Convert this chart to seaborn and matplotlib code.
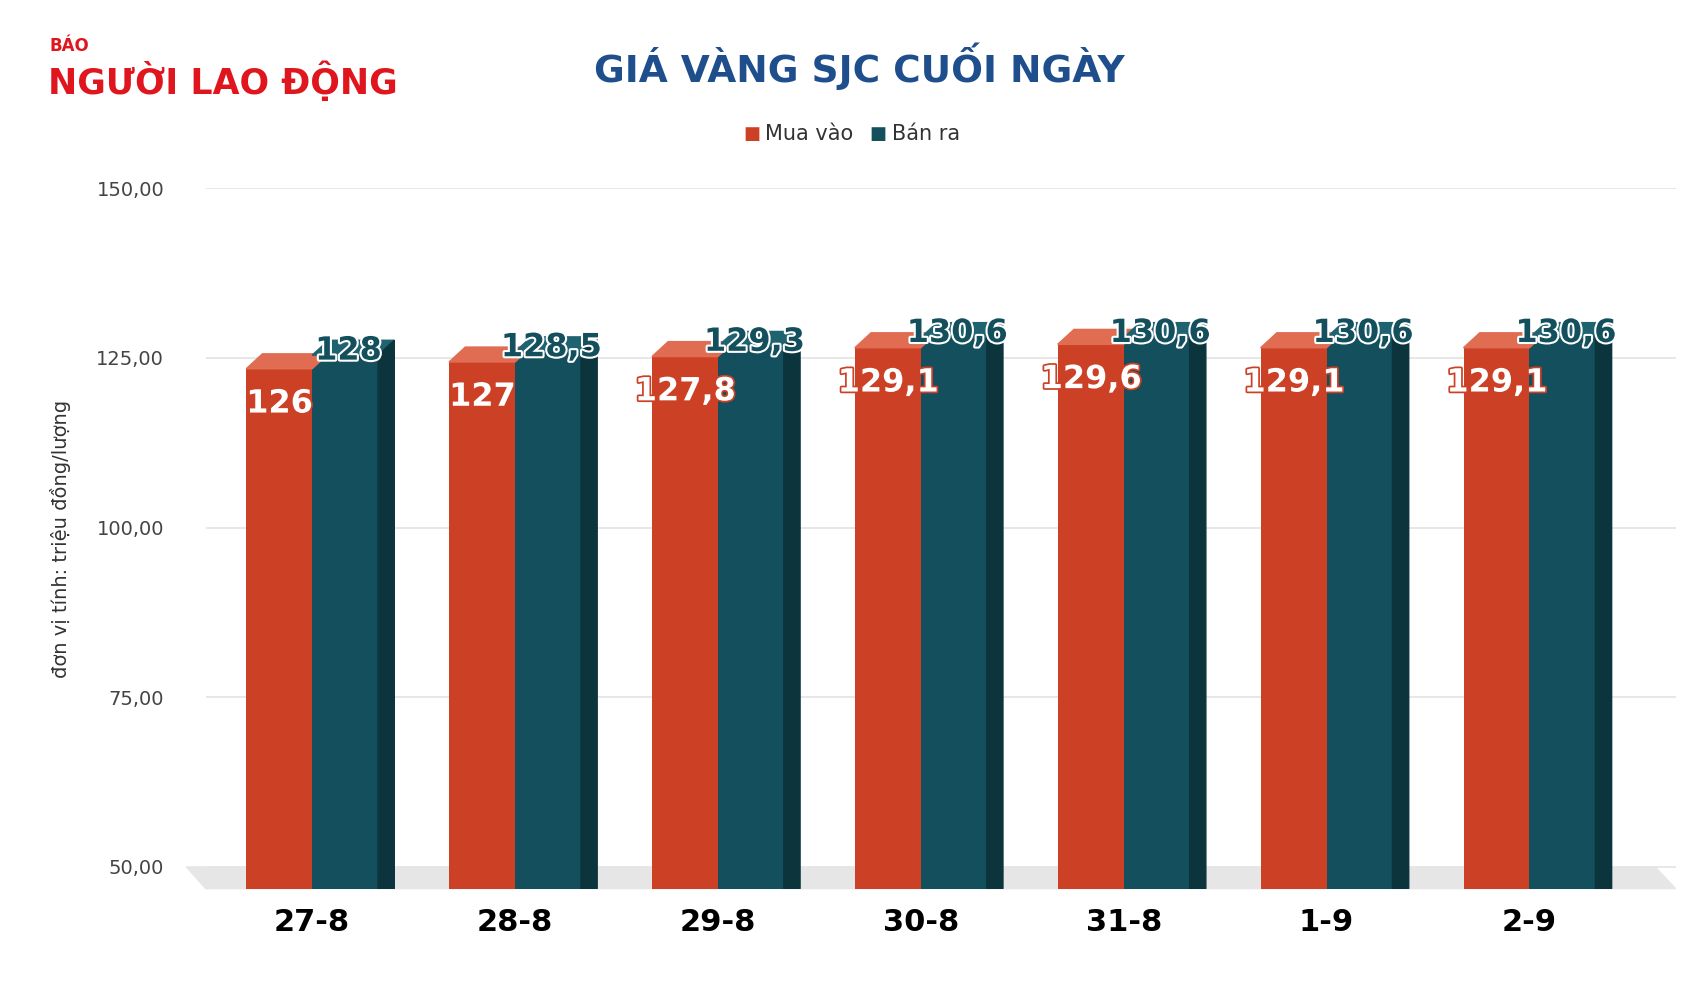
import numpy as np
import matplotlib.pyplot as plt
import matplotlib.patheffects as pe
import pandas as pd
import seaborn as sns

# data
days = ['27-8', '28-8', '29-8', '30-8', '31-8', '1-9', '2-9']
mua_vao = [126, 127, 127.8, 129.1, 129.6, 129.1, 129.1]
ban_ra = [128, 128.5, 129.3, 130.6, 130.6, 130.6, 130.6]
yticks = [50, 75, 100, 125, 150]

orange = '#cc4125'
teal = '#134f5c'

df = pd.DataFrame({'day': days * 2,
                   'price': mua_vao + ban_ra,
                   'kind': ['Mua vào'] * 7 + ['Bán ra'] * 7})

fig = plt.figure(figsize=(17.08, 9.83), dpi=100)
ax = fig.add_axes([0.1205, 0.096, 0.8605, 0.7125])
ymin = 46.8
sns.barplot(data=df, x='day', y='price', hue='kind', palette=[orange, teal],
            width=0.65, ax=ax, saturation=1, legend=False, zorder=3)

ax.set_ylim(ymin, 150)
ax.set_xlim(-0.524, 6.72)

# fake 3d: front face sits a bit lower, top and side faces added
dx, dy, drop = 0.08, 2.2, 2.6
colors = {0: ('#e06c52', None), 1: ('#1f6270', '#0c343d')}
for k, cont in enumerate(ax.containers):
    topc, sidec = colors[k]
    for p in cont.patches:
        x0, w = p.get_x(), p.get_width()
        top = p.get_y() + p.get_height() - drop
        p.set_y(ymin)
        p.set_height(top - ymin)
        ax.fill([x0, x0 + w, x0 + w + dx, x0 + dx], [top, top, top + dy, top + dy],
                color=topc, zorder=3)
        if sidec:
            ax.fill([x0 + w, x0 + w + dx, x0 + w + dx, x0 + w],
                    [ymin, ymin, top + dy, top], color=sidec, zorder=3)

# floor
ax.fill([-0.524, 6.72, 6.62, -0.62], [ymin, ymin, 50, 50], color='#e6e6e6', zorder=1,
        clip_on=False)

# value labels
for i in range(len(days)):
    t = ax.text(i - 0.16, mua_vao[i] - drop - 5.2, f'{mua_vao[i]:g}'.replace('.', ','),
                ha='center', va='center', fontsize=23, fontweight='bold', color='white',
                zorder=5)
    t.set_path_effects([pe.withStroke(linewidth=2.5, foreground=orange)])
    t = ax.text(i + 0.18, ban_ra[i] - drop + 0.6, f'{ban_ra[i]:g}'.replace('.', ','),
                ha='center', va='center', fontsize=23, fontweight='bold', color=teal,
                zorder=5)
    t.set_path_effects([pe.withStroke(linewidth=3, foreground='white')])

ax.set_yticks(yticks)
ax.set_yticklabels([f'{v:.2f}'.replace('.', ',') for v in yticks], fontsize=14,
                   color='#444444')
ax.tick_params(axis='x', labelsize=22, length=0, pad=14)
for lab in ax.get_xticklabels():
    lab.set_fontweight('bold')
ax.tick_params(axis='y', length=0, pad=30)
ax.grid(axis='y', color='#e3e3e3', linewidth=1.2, zorder=0)
ax.set_axisbelow(True)
for s in ax.spines.values():
    s.set_visible(False)
ax.set_xlabel('')
ax.set_ylabel('đơn vị tính: triệu đồng/lượng', fontsize=14, color='#333333', labelpad=18)

# title, legend, logo
fig.text(0.503, 0.933, 'GIÁ VÀNG SJC CUỐI NGÀY', ha='center', va='center',
         fontsize=27, fontweight='bold', color='#1f4e8c')
fig.text(0.445, 0.864, '■', color=orange, fontsize=13, ha='right', va='center')
fig.text(0.448, 0.864, 'Mua vào', color='#333333', fontsize=15, va='center')
fig.text(0.519, 0.864, '■', color=teal, fontsize=13, ha='right', va='center')
fig.text(0.522, 0.864, 'Bán ra', color='#333333', fontsize=15, va='center')
fig.text(0.029, 0.953, 'BÁO', color='#e0161e', fontsize=12, fontweight='bold', va='center')
fig.text(0.028, 0.918, 'NGƯỜI LAO ĐỘNG', color='#e0161e', fontsize=25, fontweight='heavy',
         va='center')

fig.savefig('out.png', dpi=100, facecolor='white')
